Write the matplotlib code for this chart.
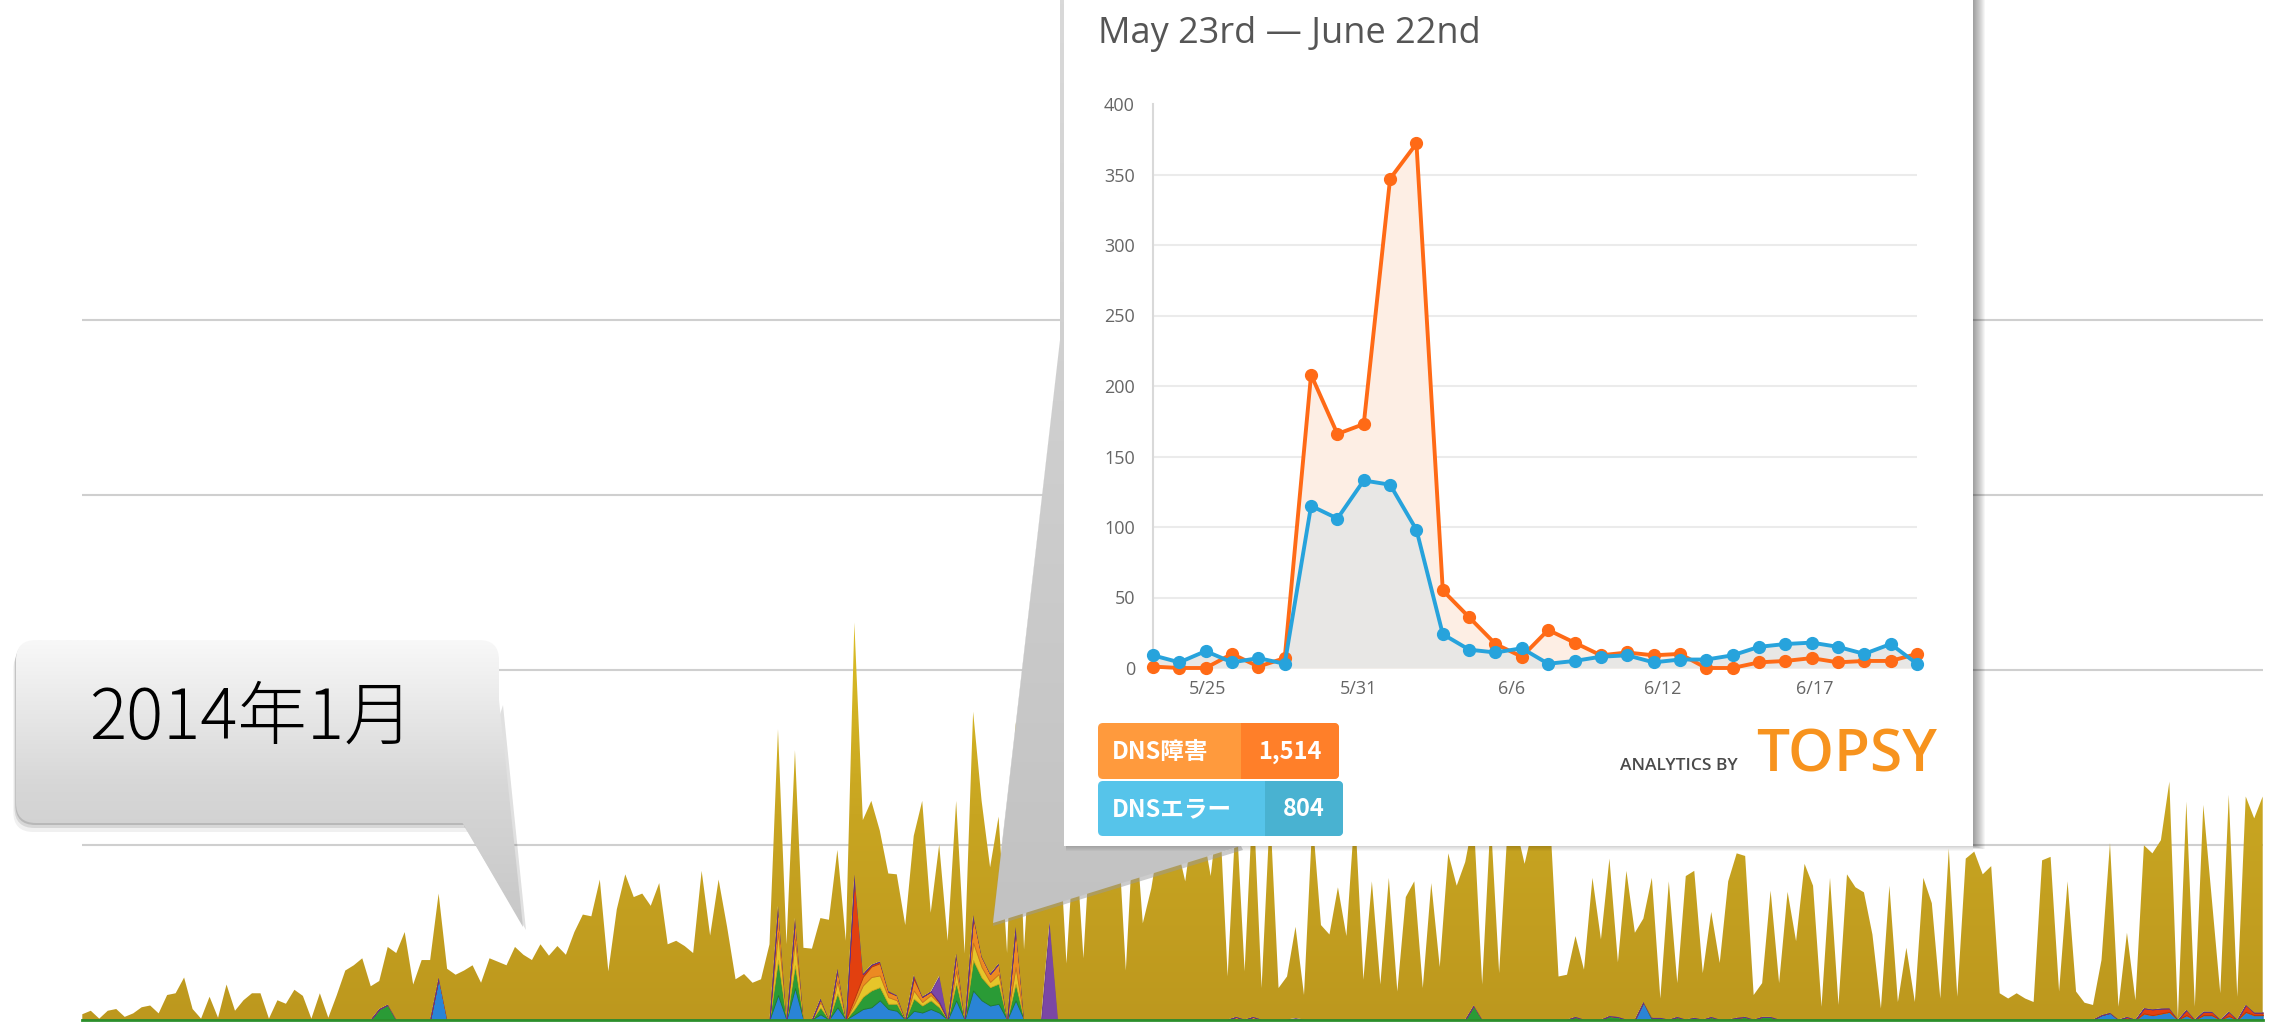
import numpy as np
import matplotlib.pyplot as plt
from matplotlib.colors import LinearSegmentedColormap
from matplotlib.patches import Polygon, FancyBboxPatch, Rectangle

W, H = 2271, 1023

# ---- background chart: daily volume, stacked (grid step = 100) ----
total = [3, 5, 0.5, 5, 6, 1.5, 3.5, 7, 8, 3.5,
         14, 15, 24, 6, 0.5, 13, 1, 20, 5, 11,
         15, 15, 0.5, 11, 9, 17, 13.5, 0.5, 15, 1,
         14, 28, 31, 35, 19, 22, 41.5, 38, 50, 20,
         34, 34, 72, 29, 25.6, 28, 31, 21, 35, 33,
         31, 41.5, 37, 34, 43, 36.5, 42, 37, 50, 60,
         59, 80, 27.5, 63, 83, 70, 72, 65, 78, 43,
         45, 42, 38, 85, 48, 80, 53, 23, 26, 21,
         23, 43, 166, 43, 154, 41, 40.5, 58, 57, 97,
         45, 227, 114, 125, 108, 83.5, 83, 54, 105, 125,
         61, 100, 45, 125, 37.7, 176, 125, 87, 116, 38,
         170, 40, 120, 110, 105, 120, 32, 110, 35, 120,
         100, 110, 115, 28, 120, 55, 75, 105, 110, 100,
         79, 115, 110, 82, 125, 24.6, 120, 27.5, 130, 18,
         120, 18, 24.6, 53, 14, 115, 54, 48.6, 75.6, 47.7,
         120, 22.7, 79, 20, 81, 16, 70, 79, 18, 78,
         30, 95, 76.5, 90, 115, 20, 115, 26.5, 110, 110,
         89, 110, 105, 115, 24.6, 25.6, 47.7, 28.5, 81, 45.8,
         92, 32.7, 85, 49.6, 57.7, 81, 12, 79, 20.8, 82,
         85, 26.5, 61.5, 32.3, 79, 95, 93.5, 14, 20.8, 73.7,
         20.8, 73, 44.8, 89, 76.5, 7.3, 81, 8.3, 83, 75.6,
         72.7, 48.6, 6.3, 76.5, 10, 41, 10, 81, 66.5, 12,
         97.7, 13, 92, 96, 83, 87.7, 15, 12, 15, 12,
         10, 91, 93, 16, 79, 16, 9.6, 8.3, 34, 101,
         7.3, 49.6, 11, 99.6, 95, 102.5, 136, 0.6, 124.6, 7.3,
         122.7, 69, 15, 128.5, 13, 127.5, 115, 127.5]

blue_idx = [42, 82, 84, 87, 89, 91, 92, 93, 94, 95, 96, 98, 99, 100, 101, 103, 105, 106, 107, 108, 110,
            184, 238, 239, 243, 244, 245, 246, 248, 250, 251, 253, 255, 256, 257]
blue_val = [24, 14, 18, 3, 7, 3, 6, 7, 11, 6, 5, 5, 4, 6, 4, 11, 16.6, 11, 8, 9, 11,
            10, 2.5, 3.8, 3.5, 2.5, 3.5, 4.4, 2.5, 2.5, 2.5, 2, 4.4, 2.5, 2.5]
green_idx = [35, 36, 82, 84, 87, 89, 91, 92, 93, 94, 95, 96, 98, 99, 100, 101, 103, 105, 106, 107, 108, 110,
             164, 176, 180, 181, 185, 186, 188, 190, 192, 195, 196, 198, 199]
green_val = [6, 8.5, 20, 13, 4, 8, 3, 7, 9.6, 7.5, 3, 4, 7, 4, 5, 3, 10, 17.4, 13, 10.5, 11.5, 9.5,
             8, 1.5, 2, 1.5, 1, 1, 1.5, 1, 1.5, 1, 1.5, 1.5, 1.5]
yellow_idx = [82, 84, 87, 89, 91, 92, 93, 94, 95, 96, 98, 99, 100, 101, 103, 105, 106, 107, 108, 110]
yellow_val = [16, 15, 3, 7, 3, 6.5, 7.7, 6.7, 3.8, 2, 4.6, 2, 3, 2, 7, 10, 6, 3, 5.5, 9.5]
orange_idx = [82, 84, 87, 89, 91, 92, 93, 94, 95, 96, 98, 99, 100, 101, 103, 105, 106, 107, 108, 110, 136, 138]
orange_val = [15, 12, 2, 7, 3, 5, 6, 7, 2.9, 2.8, 6.7, 3, 2, 1, 9.7, 14.7, 6, 4.6, 6, 23, 1.5, 1.5]
red_idx = [91, 92, 93, 94, 95, 98, 105, 241, 243, 244, 245, 246, 248, 250, 251, 253, 255, 256, 257]
red_val = [71, 1.5, 1, 1, 0.5, 2, 1, 1.5, 3, 3.3, 2.8, 2, 3, 2, 2, 2.5, 4, 1.5, 1.5]
purple_idx = [101, 114, 143]
purple_val = [15, 56, 0.8]

# ---- inset (Topsy) 5/23 - 6/21 ----
dns_fail = [1, 0, 0, 10, 1, 7, 208, 166, 173, 347, 372, 55, 36, 17, 8, 27, 18, 9, 11, 9,
            10, 0, 0, 4, 5, 7, 4, 5, 5, 10]
dns_error = [9, 4, 12, 4, 7, 3, 115, 106, 133, 130, 98, 24, 13, 11, 14, 3, 5, 8, 9, 4,
             6, 6, 9, 15, 17, 18, 15, 10, 17, 3]
inset_ticks = [2.05, 7.8, 13.6, 19.35, 25.1]
inset_ticklabels = ['5/25', '5/31', '6/6', '6/12', '6/17']
legend_names = ['DNS障害', 'DNSエラー']
legend_totals = ['1,514', '804']

CJK = ['Noto Sans CJK JP', 'DejaVu Sans']
SANS = ['Open Sans', 'DejaVu Sans']

fig = plt.figure(figsize=(W / 100, H / 100), dpi=100)


def sparse(idx, val, n):
    arr = np.zeros(n)
    arr[idx] = val
    return arr


# ---------- background stacked area ----------
n = len(total)
x = np.arange(n)
base_y, top_val = 1019.5, 1019.5 / 1.749
ax = fig.add_axes([82.3 / W, 1 - base_y / H, (2262.7 - 82.3) / W, base_y / H])
ax.set_zorder(0)
ax.axis('off')
for v in [100, 200, 300, 400]:
    ax.axhline(v, color='#cfcfcf', lw=1.5, zorder=0)

layers = [sparse(blue_idx, blue_val, n), sparse(green_idx, green_val, n),
          sparse(yellow_idx, yellow_val, n), sparse(orange_idx, orange_val, n),
          sparse(red_idx, red_val, n), sparse(purple_idx, purple_val, n)]
gold = np.clip(np.array(total) - np.sum(layers, axis=0), 0, None)
fills = ['#2a84d6', '#2a9b36', '#e6c52a', '#ec8a22', '#e2400f', '#7b47a5', '#c9a822']
edges = ['#1b64b4', '#1f7d2a', '#cfa91c', '#c9701a', '#b8300a', '#5f3388', '#c9a822']
polys = ax.stackplot(x, *layers, gold, colors=fills, linewidth=0.6)
for p, c in zip(polys, edges):
    p.set_edgecolor(c)

gold_cmap = LinearSegmentedColormap.from_list('gold', ['#bd981e', '#c8a521', '#dcbf26'])
grad = np.linspace(0, 1, 256).reshape(-1, 1)
im = ax.imshow(grad, extent=[0, n - 1, 0, 235], origin='lower', aspect='auto',
               cmap=gold_cmap, zorder=1.5)
im.set_clip_path(polys[-1].get_paths()[0], transform=ax.transData)
polys[-1].set_facecolor('none')
polys[-1].set_edgecolor('none')
ax.axhline(0, color='#2b8f2b', lw=2, zorder=3, clip_on=False)
ax.set_xlim(0, n - 1)
ax.set_ylim(0, top_val)

# ---------- overlay: callouts and card ----------
ov = fig.add_axes([0, 0, 1, 1])
ov.set_zorder(2)
ov.patch.set_alpha(0)
ov.axis('off')
ov.set_xlim(0, W)
ov.set_ylim(H, 0)

# left bubble
for off, a in [(9, 0.06), (5, 0.10), (2, 0.14)]:
    ov.add_patch(FancyBboxPatch((16 - off * 0.3, 640 + off), 483, 183,
                                boxstyle='round,pad=0,rounding_size=20',
                                fc='black', ec='none', alpha=a, zorder=1))
bubble = FancyBboxPatch((16, 640), 483, 183, boxstyle='round,pad=0,rounding_size=20',
                        fc='none', ec='none', zorder=2)
tail = Polygon([(462, 822), (499, 700), (523, 927)], closed=True, fc='none', ec='none')
ov.add_patch(Polygon([(464, 826), (503, 705), (526, 930)], closed=True,
                     fc='black', ec='none', alpha=0.12, zorder=1))
ov.add_patch(bubble)
ov.add_patch(tail)
bub_cmap = LinearSegmentedColormap.from_list('bub', ['#f8f8f8', '#d7d7d7', '#c7c7c7'])
for clip in (bubble, tail):
    g = ov.imshow(grad, extent=[10, 530, 927, 640], origin='upper', aspect='auto',
                  cmap=bub_cmap, zorder=2)
    g.set_clip_path(clip)
ov.text(89, 739, '2014年1月', family=CJK, fontsize=50, fontweight='light', color='black',
        va='baseline', ha='left', zorder=3)

# wedge of the card callout
wedge = Polygon([(1060, 0), (1060, 340), (993, 923), (1241, 846), (1066, 846), (1066, 0)],
                closed=True, fc='none', ec='none')
ov.add_patch(Polygon([(1060, 340), (993, 926), (1243, 850), (1241, 846), (993, 921)],
                     closed=True, fc='#9a9a9a', ec='none', alpha=0.5, zorder=2))
ov.add_patch(wedge)
wedge_cmap = LinearSegmentedColormap.from_list('wedge', ['#d9d9d9', '#c2c2c2'])
g = ov.imshow(grad, extent=[990, 1250, 925, 0], origin='upper', aspect='auto',
              cmap=wedge_cmap, zorder=2)
g.set_clip_path(wedge)

# card with shadow
for k in range(12):
    ov.add_patch(Rectangle((1973, -5), k + 1, 851 + k * 0.3, fc='black', ec='none',
                           alpha=0.035, zorder=3))
for k in range(5):
    ov.add_patch(Rectangle((1066, 846), 907, k + 1, fc='black', ec='none',
                           alpha=0.03, zorder=3))
ov.add_patch(Rectangle((1064, -5), 909, 851, fc='white', ec='none', zorder=4))

ov.text(1098, 43, 'May 23rd — June 22nd', family=SANS, fontsize=26,
        color='#555555', va='baseline', ha='left', zorder=5)

# legend boxes
boxes = [((1098, 723), 241, 56, 1241, '#ff9a3d', '#ff7f29'),
         ((1098, 781), 245, 55, 1265, '#56c4ea', '#49b2d1')]
for (xy, w, h, split, c1, c2), name, tot in zip(boxes, legend_names, legend_totals):
    box = FancyBboxPatch(xy, w, h, boxstyle='round,pad=0,rounding_size=5', fc=c1,
                         ec='none', zorder=5)
    ov.add_patch(box)
    right = Rectangle((split, xy[1]), xy[0] + w - split, h, fc=c2, ec='none', zorder=6)
    ov.add_patch(right)
    right.set_clip_path(box)
    ov.text(1112, xy[1] + h / 2 + 1, name, family=CJK, fontsize=17, fontweight='bold',
            color='white', va='center', ha='left', zorder=7)
    ov.text((split + xy[0] + w) / 2, xy[1] + h / 2 + 1, tot, family=CJK, fontsize=17,
            fontweight='bold', color='white', va='center', ha='center', zorder=7)

ov.text(1620, 770, 'ANALYTICS BY', family=SANS, fontsize=12.5, fontweight='semibold',
        color='#4a4a4a', va='baseline', ha='left', zorder=5)
ov.text(1756, 771, 'TOPSY', family=SANS, fontsize=42, fontweight='semibold',
        color='#f7931e', va='baseline', ha='left', zorder=5)

# ---------- inset chart ----------
ai = fig.add_axes([1153 / W, 1 - 668 / H, (1917 - 1153) / W, (668 - 104) / H])
ai.set_zorder(3)
ai.patch.set_alpha(0)
xi = np.arange(len(dns_fail))
ai.set_xlim(0, len(dns_fail) - 1)
ai.set_ylim(0, 400)
for s in ['top', 'right', 'bottom']:
    ai.spines[s].set_visible(False)
ai.spines['left'].set_color('#d9d9d9')
ai.spines['left'].set_linewidth(1.5)
for v in range(50, 400, 50):
    ai.axhline(v, color='#ebebeb', lw=1.5, zorder=0)
ai.axhline(0, color='#e0e0e0', lw=1.5, zorder=0)
ai.fill_between(xi, dns_fail, color='#fdeee4', zorder=1, lw=0)
ai.fill_between(xi, dns_error, color='#e8e7e5', zorder=2, lw=0)
ai.plot(xi, dns_fail, color='#ff6a16', lw=2.8, marker='o', ms=8.5, zorder=3, clip_on=False)
ai.plot(xi, dns_error, color='#27a3dc', lw=2.8, marker='o', ms=8.5, zorder=4, clip_on=False)
ai.set_yticks(range(0, 401, 50))
ai.set_xticks(inset_ticks)
ai.set_xticklabels(inset_ticklabels)
ai.tick_params(axis='y', length=0, pad=13, labelsize=13, labelcolor='#666666')
ai.tick_params(axis='x', length=0, pad=9, labelsize=13, labelcolor='#666666')
for lab in ai.get_xticklabels() + ai.get_yticklabels():
    lab.set_family(SANS)

fig.savefig('out.png', dpi=100)
